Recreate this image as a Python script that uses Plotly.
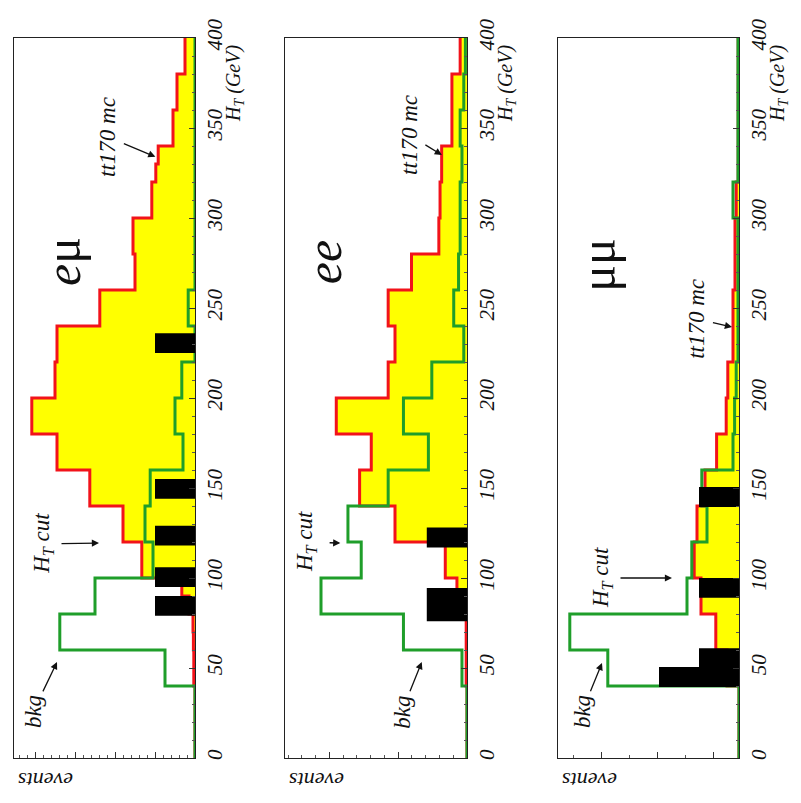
import plotly.graph_objects as go

# H_T bin edges (GeV), 10 GeV bins
HT_EDGES = [0, 10, 20, 30, 40, 50, 60, 70, 80, 90, 100, 110, 120, 130, 140, 150, 160, 170, 180, 190,
            200, 210, 220, 230, 240, 250, 260, 270, 280, 290, 300, 310, 320, 330, 340, 350, 360, 370, 380, 390, 400]

# ---- e-mu channel ----
EMU_TT = [0, 0, 0, 0, 0.03, 0.03, 0.04, 0.05, 0.15, 0.33,
          1.33, 1.33, 1.8, 1.8, 2.63, 2.63, 3.45, 3.45, 4.08, 4.08,
          3.5, 3.5, 3.45, 3.45, 2.38, 2.38, 1.5, 1.5, 1.55, 1.55,
          1.08, 1.08, 0.98, 0.92, 0.55, 0.55, 0.45, 0.45, 0.25, 0.25]
EMU_BKG = [0, 0, 0, 0, 0.75, 0.75, 3.38, 3.38, 2.5, 2.5,
           1.05, 1.05, 1.25, 1.25, 1.12, 1.12, 0.3, 0.3, 0.5, 0.5,
           0.33, 0.33, 0, 0, 0.17, 0.17, 0, 0, 0, 0,
           0, 0, 0, 0, 0, 0, 0, 0, 0, 0]
EMU_DATA_LO = [79, 95, 118, 144, 225]
EMU_DATA_HI = [90, 106, 129, 155, 236]
EMU_DATA_N = [1, 1, 1, 1, 1]

# ---- e-e channel ----
EE_TT = [0, 0, 0, 0, 0.02, 0.02, 0.02, 0.02, 0.1, 0.25,
         0.54, 0.54, 1.79, 1.79, 2.67, 2.67, 2.38, 2.38, 3.25, 3.25,
         1.96, 1.96, 1.79, 1.79, 1.96, 1.96, 1.38, 1.38, 0.7, 0.7,
         0.67, 0.67, 0.63, 0.63, 0.375, 0.375, 0.375, 0.375, 0.17, 0.17]
EE_BKG = [0, 0, 0, 0, 0.125, 0.125, 1.58, 1.58, 3.63, 3.63,
          2.63, 2.63, 2.96, 2.96, 1.96, 1.96, 0.96, 0.96, 1.58, 1.58,
          0.875, 0.875, 0.08, 0.08, 0.33, 0.33, 0.21, 0.21, 0.17, 0.17,
          0.17, 0.17, 0.125, 0.125, 0.17, 0.17, 0.08, 0.08, 0.04, 0.04]
EE_DATA_LO = [117, 76]
EE_DATA_HI = [128, 94.5]
EE_DATA_N = [1, 1]

# ---- mu-mu channel ----
MUMU_TT = [0, 0, 0, 0, 0.3, 0.3, 0.58, 0.58, 0.95, 0.95,
           1.12, 1.12, 1.05, 1.05, 0.85, 0.85, 0.56, 0.56, 0.32, 0.32,
           0.28, 0.28, 0.15, 0.15, 0.15, 0.15, 0.1, 0.1, 0.1, 0.1,
           0.07, 0.07, 0.02, 0.02, 0.02, 0.02, 0.02, 0.02, 0.02, 0.02]
MUMU_BKG = [0, 0, 0, 0, 3.28, 3.28, 4.23, 4.23, 1.3, 1.3,
            1.18, 1.18, 0.8, 0.8, 0.93, 0.93, 0.15, 0.15, 0.11, 0.11,
            0.07, 0.07, 0.025, 0.025, 0.025, 0.025, 0.025, 0.025, 0.025, 0.025,
            0.15, 0.15, 0.025, 0.025, 0.025, 0.025, 0.025, 0.025, 0.025, 0.025]
MUMU_DATA_LO = [39.5, 50.5, 89, 139.5]
MUMU_DATA_HI = [50.5, 61, 100, 150.5]
MUMU_DATA_N = [2, 1, 1, 1]

HT_TICKS = [0, 50, 100, 150, 200, 250, 300, 350, 400]
HT_TICK_TEXT = ["0", "50", "100", "150", "200", "250", "300", "350", "400"]

W, H = 801, 803
RED = "#f2131a"
GREEN = "#1f9e2a"
YELLOW = "#ffff00"
FONT = "Liberation Serif"

# label specs: (text centre, arrow head, start standoff in px)
panels = [
    dict(name="<i>e</i>μ", tt=EMU_TT, bkg=EMU_BKG, lo=EMU_DATA_LO, hi=EMU_DATA_HI, n=EMU_DATA_N,
         px=(14, 195), dt=1.0, t0=0, mdt=0.2, mt0=0,
         label=(3.3, 275.6),
         ttl=((2.175, 345), (0.99, 334), 2),
         cutl=((3.8, 119), (2.4, 119.4), 3),
         bkgl=((4.05, 25.5), (3.45, 53.3), 3)),
    dict(name="<i>ee</i>", tt=EE_TT, bkg=EE_BKG, lo=EE_DATA_LO, hi=EE_DATA_HI, n=EE_DATA_N,
         px=(285, 467), dt=1.71, t0=0, mdt=0.342, mt0=0,
         label=(3.55, 275.6),
         ttl=((1.425, 346), (0.625, 335), 2),
         cutl=((4.0, 120), (3.15, 119.4), 8),
         bkgl=((1.625, 25.5), (1.125, 53.3), 3)),
    dict(name="μμ", tt=MUMU_TT, bkg=MUMU_BKG, lo=MUMU_DATA_LO, hi=MUMU_DATA_HI, n=MUMU_DATA_N,
         px=(558, 739), dt=1.4, t0=0.65, mdt=0.7, mt0=0.65,
         label=(3.525, 274),
         ttl=((1.05, 244), (0.175, 239.4), 2),
         cutl=((3.425, 100), (1.675, 100), 3),
         bkgl=((3.925, 25.5), (3.425, 52.8), 3)),
]

fig = go.Figure()
annotations = []
YDOM = [(H - 758) / H, (H - 38) / H]
XMAX = 181 / 40.0

for i, p in enumerate(panels):
    k = "" if i == 0 else str(i + 1)
    xa, ya = "x" + k, "y" + k
    tt_vals, bkg_vals = p["tt"], p["bkg"]
    # yellow fill under the tt MC histogram
    fx = [0] + tt_vals + [tt_vals[-1], 0]
    fy = [0] + HT_EDGES[:-1] + [HT_EDGES[-1], HT_EDGES[-1]]
    fig.add_trace(go.Scatter(x=fx, y=fy, mode="lines", line=dict(width=0, shape="vh"),
                             fill="toself", fillcolor=YELLOW, xaxis=xa, yaxis=ya,
                             showlegend=False, hoverinfo="skip"))
    # red tt MC step
    fig.add_trace(go.Scatter(x=tt_vals + [tt_vals[-1]], y=HT_EDGES, mode="lines",
                             line=dict(color=RED, width=3, shape="vh"), cliponaxis=False,
                             xaxis=xa, yaxis=ya, showlegend=False))
    # green background step
    fig.add_trace(go.Scatter(x=bkg_vals + [bkg_vals[-1]], y=HT_EDGES, mode="lines",
                             line=dict(color=GREEN, width=3, shape="vh"), cliponaxis=False,
                             xaxis=xa, yaxis=ya, showlegend=False))
    # black data entries (rectangles from the data lists, drawn above the histograms)
    bx, by = [], []
    for lo, hi, n in zip(p["lo"], p["hi"], p["n"]):
        bx += [0, n, n, 0, 0, None]
        by += [lo, lo, hi, hi, lo, None]
    fig.add_trace(go.Scatter(x=bx, y=by, mode="lines", line=dict(width=0, color="black"),
                             fill="toself", fillcolor="black", xaxis=xa, yaxis=ya,
                             showlegend=False))

    x0, x1 = p["px"]
    fig.update_layout(**{
        ("xaxis" + k): dict(domain=[x0 / W, x1 / W], range=[XMAX, 0], anchor=ya, automargin=False,
                            showline=True, linecolor="#222", linewidth=1, mirror=True,
                            ticks="inside", ticklen=6, tickcolor="#333", tick0=p["t0"], dtick=p["dt"],
                            showticklabels=False, showgrid=False, zeroline=False,
                            minor=dict(ticks="inside", ticklen=3, tickcolor="#555",
                                       tick0=p["mt0"], dtick=p["mdt"], showgrid=False)),
        ("yaxis" + k): dict(domain=YDOM, range=[0, 400], anchor=xa, side="right", automargin=False,
                            showline=True, linecolor="#222", linewidth=1, mirror=True,
                            ticks="inside", ticklen=6, tickcolor="#333",
                            tickvals=HT_TICKS, ticktext=HT_TICK_TEXT, tickangle=-90,
                            tickfont=dict(family=FONT, size=21, color="#111", style="italic"),
                            ticklabelstandoff=1,
                            showgrid=False, zeroline=False,
                            minor=dict(ticks="inside", ticklen=3, tickcolor="#555",
                                       dtick=10, showgrid=False)),
    })

    def label_arrow(text, spec, size):
        (tx, ty), (hx, hy), so = spec
        annotations.append(dict(text=text, x=hx, y=hy, ax=tx, ay=ty,
                                xref=xa, yref=ya, axref=xa, ayref=ya, showarrow=True,
                                textangle=-90, startstandoff=so,
                                arrowhead=2, arrowsize=1.1, arrowwidth=1.3, arrowcolor="#111",
                                font=dict(family=FONT, size=size, color="#111")))

    annotations.append(dict(text=p["name"], x=p["label"][0], y=p["label"][1], xref=xa, yref=ya,
                            showarrow=False, textangle=-90, xanchor="center", yanchor="middle",
                            font=dict(family=FONT, size=50, color="#111")))
    label_arrow("<i>tt170 mc</i>", p["ttl"], 23)
    label_arrow("<i>H<sub>T</sub> cut</i>", p["cutl"], 23)
    label_arrow("<i>bkg</i>", p["bkgl"], 23)

    # axis title H_T (GeV) near the top of the right-hand axis
    annotations.append(dict(text="<i>H<sub>T</sub> (GeV)</i>", x=(x1 + 40) / W, y=(H - 84) / H,
                            xref="paper", yref="paper", showarrow=False, textangle=-90,
                            xanchor="center", yanchor="middle",
                            font=dict(family=FONT, size=20, color="#111")))
    # 'events' label (upside down) at bottom-left
    annotations.append(dict(text="<i>events</i>", x=(x0 + 32) / W, y=(H - 781) / H,
                            xref="paper", yref="paper", showarrow=False, textangle=180,
                            xanchor="center", yanchor="middle",
                            font=dict(family=FONT, size=22, color="#111")))

fig.update_layout(width=W, height=H, margin=dict(l=0, r=0, t=0, b=0, autoexpand=False),
                  paper_bgcolor="white", plot_bgcolor="white",
                  annotations=annotations, showlegend=False)

fig.write_html("out.html")
